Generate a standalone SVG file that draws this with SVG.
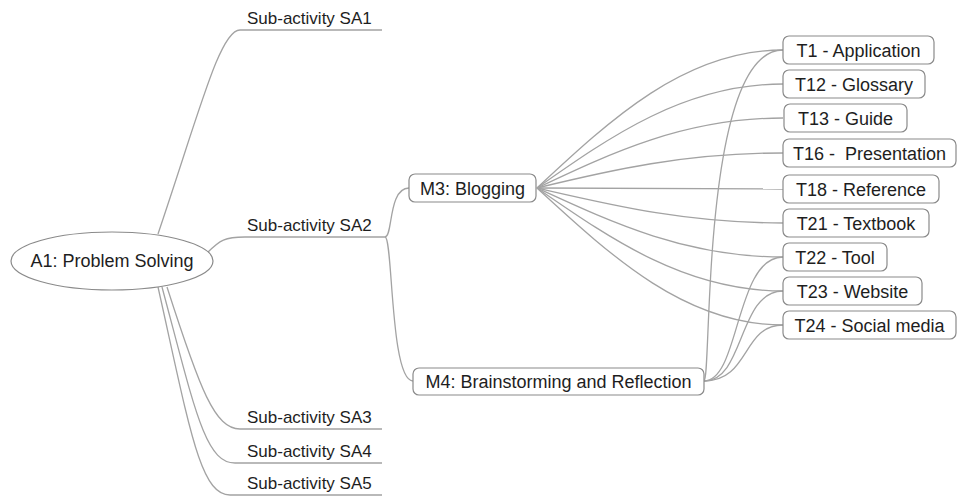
<svg xmlns="http://www.w3.org/2000/svg" width="958" height="497" viewBox="0 0 958 497">
<style>
.c{fill:none;stroke:#a3a3a3;stroke-width:1.3}
.b{fill:#fff;stroke:#8a8a8a;stroke-width:1.2}
.t{font-family:"Liberation Sans",Arial,sans-serif;font-size:18px;fill:#1e1e1e;white-space:pre}
.s{font-family:"Liberation Sans",Arial,sans-serif;font-size:17px;fill:#1e1e1e}
</style>
<rect width="958" height="497" fill="#fff"/>
<g id="connectors">
<path class="c" d="M158 234 C200 110 220 30 240 30 L382 30"/>
<path class="c" d="M207 253 C220 240 225 237 245 237 L385 237"/>
<path class="c" d="M167 287 C200 390 215 429 240 429 L382 429"/>
<path class="c" d="M162 287 C195 410 205 463 235 463 L382 463"/>
<path class="c" d="M158 287 C190 430 200 495 230 495 L382 495"/>
<path class="c" d="M385 237 C393 237 388 188 409 188"/>
<path class="c" d="M385 237 C393 237 390 381 413 381"/>
<path class="c" d="M537 188 C611 119 685 50 783 50"/>
<path class="c" d="M537 188 C611 136 685 84 783 84"/>
<path class="c" d="M537 188 C611 153 685 118 783 118"/>
<path class="c" d="M537 188 C611 170 685 153 783 153"/>
<path class="c" d="M537 188 C611 188 685 189 783 189"/>
<path class="c" d="M537 188 C611 205 685 223 783 223"/>
<path class="c" d="M537 188 C611 222 685 257 783 257"/>
<path class="c" d="M537 188 C611 239 685 291 783 291"/>
<path class="c" d="M537 188 C611 256 685 325 783 325"/>
<path class="c" d="M704 381 C712 380 700 50 783 50"/>
<path class="c" d="M704 381 C740 381 735 257 783 257"/>
<path class="c" d="M704 381 C745 381 738 291 783 291"/>
<path class="c" d="M704 381 C750 381 742 325 783 325"/>
</g>
<g id="A1"><ellipse class="b" cx="112" cy="261" rx="101" ry="29"/><text class="t" x="112" y="267" text-anchor="middle">A1: Problem Solving</text></g>
<g id="SA1"><text class="s" x="247" y="24">Sub-activity SA1</text></g>
<g id="SA2"><text class="s" x="247" y="231">Sub-activity SA2</text></g>
<g id="SA3"><text class="s" x="247" y="423">Sub-activity SA3</text></g>
<g id="SA4"><text class="s" x="247" y="457">Sub-activity SA4</text></g>
<g id="SA5"><text class="s" x="247" y="489">Sub-activity SA5</text></g>
<g id="M3"><rect class="b" x="409" y="174" width="127" height="28" rx="6"/><text class="t" x="472.5" y="194.5" text-anchor="middle">M3: Blogging</text></g>
<g id="M4"><rect class="b" x="413" y="368" width="291" height="27" rx="6"/><text class="t" x="558.5" y="388" text-anchor="middle">M4: Brainstorming and Reflection</text></g>
<g id="T1"><rect class="b" x="783" y="36" width="151" height="28" rx="6"/><text class="t" x="858.5" y="56.5" text-anchor="middle">T1 - Application</text></g>
<g id="T12"><rect class="b" x="783" y="70" width="142" height="28" rx="6"/><text class="t" x="854" y="90.5" text-anchor="middle">T12 - Glossary</text></g>
<g id="T13"><rect class="b" x="784" y="104" width="123" height="28" rx="6"/><text class="t" x="845.5" y="124.5" text-anchor="middle">T13 - Guide</text></g>
<g id="T16"><rect class="b" x="783" y="139" width="173" height="28" rx="6"/><text class="t" x="869.5" y="159.5" text-anchor="middle">T16 -  Presentation</text></g>
<g id="T18"><rect class="b" x="783" y="175" width="156" height="28" rx="6"/><text class="t" x="861" y="195.5" text-anchor="middle">T18 - Reference</text></g>
<g id="T21"><rect class="b" x="783" y="209" width="146" height="28" rx="6"/><text class="t" x="856" y="229.5" text-anchor="middle">T21 - Textbook</text></g>
<g id="T22"><rect class="b" x="783" y="243" width="104" height="28" rx="6"/><text class="t" x="835" y="263.5" text-anchor="middle">T22 - Tool</text></g>
<g id="T23"><rect class="b" x="783" y="277" width="139" height="28" rx="6"/><text class="t" x="852.5" y="297.5" text-anchor="middle">T23 - Website</text></g>
<g id="T24"><rect class="b" x="783" y="311" width="173" height="28" rx="6"/><text class="t" x="869.5" y="331.5" text-anchor="middle">T24 - Social media</text></g>
</svg>
